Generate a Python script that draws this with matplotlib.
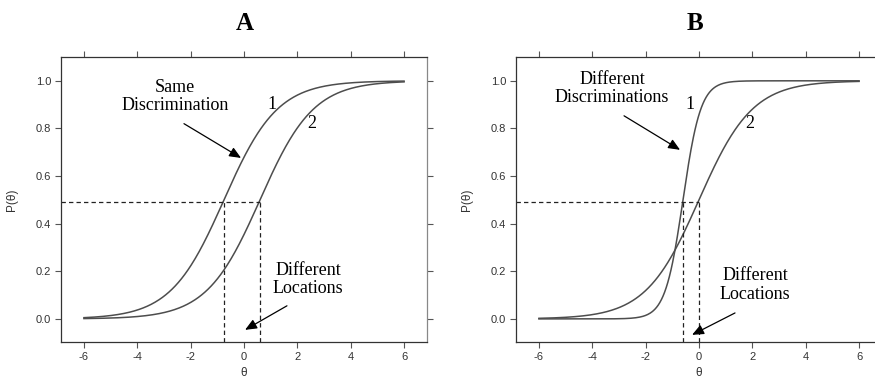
import matplotlib

matplotlib.use("Agg")
import matplotlib.pyplot as plt
import numpy as np

# item parameters (2PL): discrimination a, location b
panel_names = ["A", "B"]
discrimination_a = [1.0, 1.0]
location_a = [-0.75, 0.6]
discrimination_b = [3.0, 1.0]
location_b = [-0.6, 0.0]
item_labels = ["1", "2"]
half_point = 0.49
theta = np.linspace(-6, 6, 401)

SANS = ["Liberation Sans", "DejaVu Sans"]
SERIF = ["Liberation Serif", "DejaVu Serif"]


def icc(a, b, t):
    return 1.0 / (1.0 + np.exp(-a * (t - b)))


def draw_panel(ax, a_vals, b_vals, notes):
    for a, b in zip(a_vals, b_vals):
        ax.plot(theta, icc(a, b, theta), color="#4d4d4d", lw=1.1)
    xmin, ymin = -6.86, -0.097
    ax.plot([xmin, max(b_vals)], [half_point, half_point], color="#222222", lw=0.9, dashes=(3.5, 2.5))
    for b in b_vals:
        ax.plot([b, b], [ymin, half_point], color="#222222", lw=0.9, dashes=(3.5, 2.5))

    ax.set_xlim(xmin, 6.86)
    ax.set_ylim(ymin, 1.10)
    ax.set_xticks(np.arange(-6, 7, 2))
    ax.set_yticks(np.arange(0, 1.01, 0.2))
    ax.set_xticklabels([f"{v:d}" for v in range(-6, 7, 2)])
    ax.set_yticklabels([f"{v:.1f}" for v in np.arange(0, 1.01, 0.2)])
    ax.tick_params(direction="out", length=4, width=0.8, color="#555555", labelsize=8,
                   labelcolor="#333333", top=True, right=True, pad=3)
    for lab in ax.get_xticklabels() + ax.get_yticklabels():
        lab.set_family(SANS)
    for side in ["left", "bottom", "top"]:
        ax.spines[side].set_color("#333333")
        ax.spines[side].set_linewidth(0.9)
    ax.spines["right"].set_color("#888888")
    ax.spines["right"].set_linewidth(0.9)

    ax.set_ylabel("P(θ)", fontsize=8.5, color="#333333", family=SANS)
    ax.yaxis.set_label_coords(-0.118, 0.5)
    ax.set_xlabel("θ", fontsize=8.5, color="#333333", family=SANS)
    ax.xaxis.set_label_coords(0.5, -0.088)

    for text, (tx, ty) in notes["texts"]:
        ax.text(tx, ty, text, fontsize=13, family=SERIF, ha="center", va="center",
                multialignment="center", linespacing=1.12)
    for (x0, y0), (x1, y1) in notes["arrows"]:
        ax.annotate("", xy=(x1, y1), xytext=(x0, y0),
                    arrowprops=dict(arrowstyle="-|>,head_length=0.7,head_width=0.3",
                                    color="black", lw=0.9, shrinkA=0, shrinkB=0))


fig = plt.figure(figsize=(8.75, 3.79), dpi=100)
ax_a = fig.add_axes([61 / 875, 37 / 379, 366 / 875, 285 / 379])
ax_b = fig.add_axes([516 / 875, 37 / 379, 366 / 875, 285 / 379])

notes_a = {
    "texts": [("Same\nDiscrimination", (-2.59, 0.935)), (item_labels[0], (1.05, 0.90)),
              (item_labels[1], (2.55, 0.82)), ("Different\nLocations", (2.4, 0.166))],
    "arrows": [((-2.25, 0.82), (-0.11, 0.676)), ((1.61, 0.055), (0.04, -0.046))],
}
notes_b = {
    "texts": [("Different\nDiscriminations", (-3.26, 0.968)), (item_labels[0], (-0.34, 0.90)),
              (item_labels[1], (1.91, 0.82)), ("Different\nLocations", (2.1, 0.143))],
    "arrows": [((-2.81, 0.853), (-0.71, 0.71)), ((1.35, 0.025), (-0.26, -0.067))],
}

draw_panel(ax_a, discrimination_a, location_a, notes_a)
draw_panel(ax_b, discrimination_b, location_b, notes_b)

fig.text(245 / 875, 1 - 24 / 379, panel_names[0], fontsize=18, fontweight="bold",
         family=SERIF, ha="center", va="center")
fig.text(695 / 875, 1 - 24 / 379, panel_names[1], fontsize=18, fontweight="bold",
         family=SERIF, ha="center", va="center")

fig.savefig("out.png", dpi=100)
